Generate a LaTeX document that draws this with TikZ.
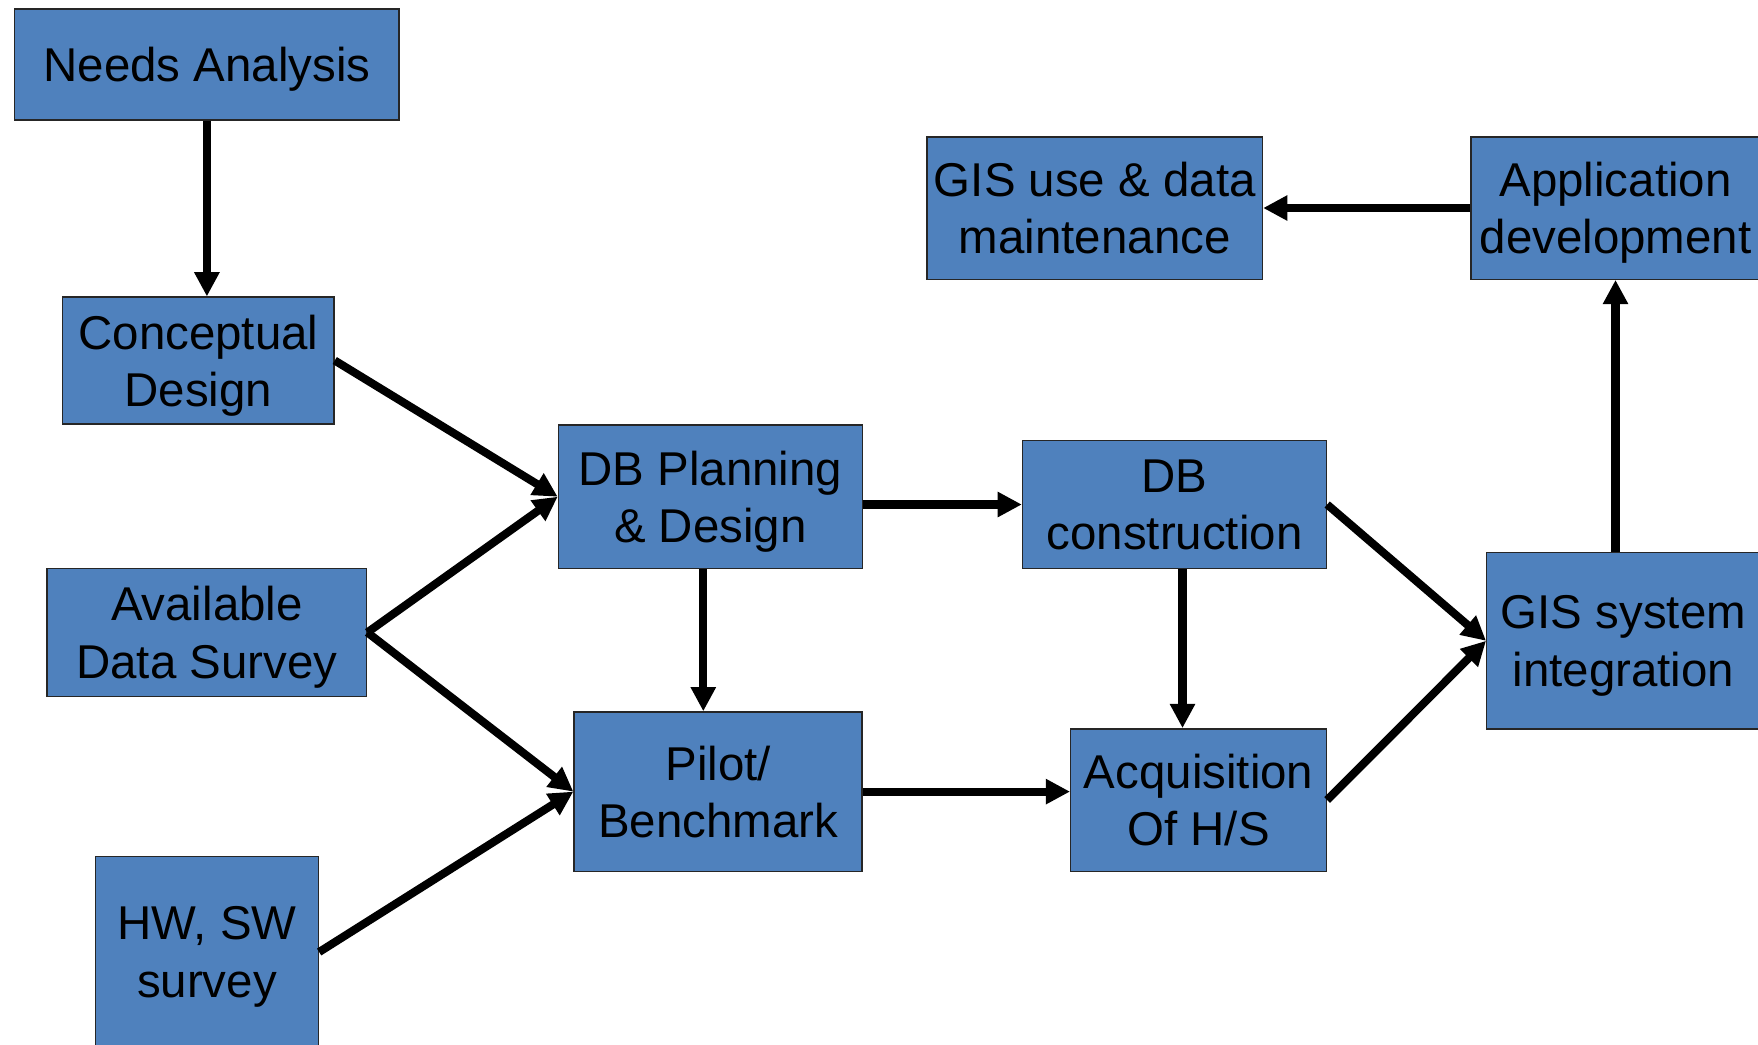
\documentclass[tikz,border=0pt]{standalone}
\usepackage{fontspec}
\setmainfont{Liberation Sans}
\usetikzlibrary{arrows.meta}
\definecolor{boxblue}{HTML}{4F81BD}

\begin{document}
\begin{tikzpicture}
        \tikzstyle{every node} = [rectangle, draw=black!85, line width=0.4pt, fill=boxblue, inner sep=0pt, align=center, text depth=-1.1pt, font=\fontsize{13.5}{16.3}\selectfont]
        \tikzstyle{flow} = [line width=2.3pt, -{Triangle[length=6.9pt,width=6.8pt]}]
        \useasboundingbox (0,0) rectangle (17.58,-10.44);
        \node[minimum width=3.845cm, minimum height=1.11cm, text depth=-0.35pt] (0) at (2.069,-0.645) {Needs Analysis};
        \node[minimum width=2.713cm, minimum height=1.267cm] (1) at (1.984,-3.605) {Conceptual\\Design};
        \node[minimum width=3.195cm, minimum height=1.279cm] (2) at (2.069,-6.324) {Available\\Data Survey};
        \node[minimum width=2.231cm, minimum height=1.91cm] (3) at (2.069,-9.52) {HW, SW\\survey};
        \node[minimum width=3.038cm, minimum height=1.435cm] (4) at (7.103,-4.967) {DB Planning\\\& Design};
        \node[minimum width=2.881cm, minimum height=1.592cm] (5) at (7.181,-7.916) {Pilot/\\Benchmark};
        \node[minimum width=3.039cm, minimum height=1.278cm] (6) at (11.745,-5.045) {DB\\construction};
        \node[minimum width=2.557cm, minimum height=1.424cm] (7) at (11.986,-8.0) {Acquisition\\Of H/S};
        \node[minimum width=2.733cm, minimum height=1.761cm] (8) at (16.234,-6.408) {GIS system\\integration};
        \node[minimum width=2.89cm, minimum height=1.424cm] (9) at (16.155,-2.08) {Application\\development};
        \node[minimum width=3.353cm, minimum height=1.424cm] (10) at (10.948,-2.08) {GIS use \& data\\maintenance};
        \draw[flow] (0.south) -- (0.south |- 1.north);
        \draw[flow] (1.east) -- (4.west);
        \draw[flow] (2.east) -- (4.west);
        \draw[flow] (2.east) -- (5.west);
        \draw[flow] (3.east) -- (5.west);
        \draw[flow] (4.east |- 6.west) -- (6.west);
        \draw[flow] ([xshift=-0.07cm]4.south) -- ([xshift=-0.07cm]4.south |- 5.north);
        \draw[flow] (5.east) -- (5.east -| 7.west);
        \draw[flow] ([xshift=0.08cm]6.south) -- ([xshift=0.08cm]6.south |- 7.north);
        \draw[flow] (6.east) -- (8.west);
        \draw[flow] (7.east) -- (8.west);
        \draw[flow] (8.north -| 9.south) -- (9.south);
        \draw[flow] (9.west) -- (10.east);
    	\end{tikzpicture}
\end{document}
